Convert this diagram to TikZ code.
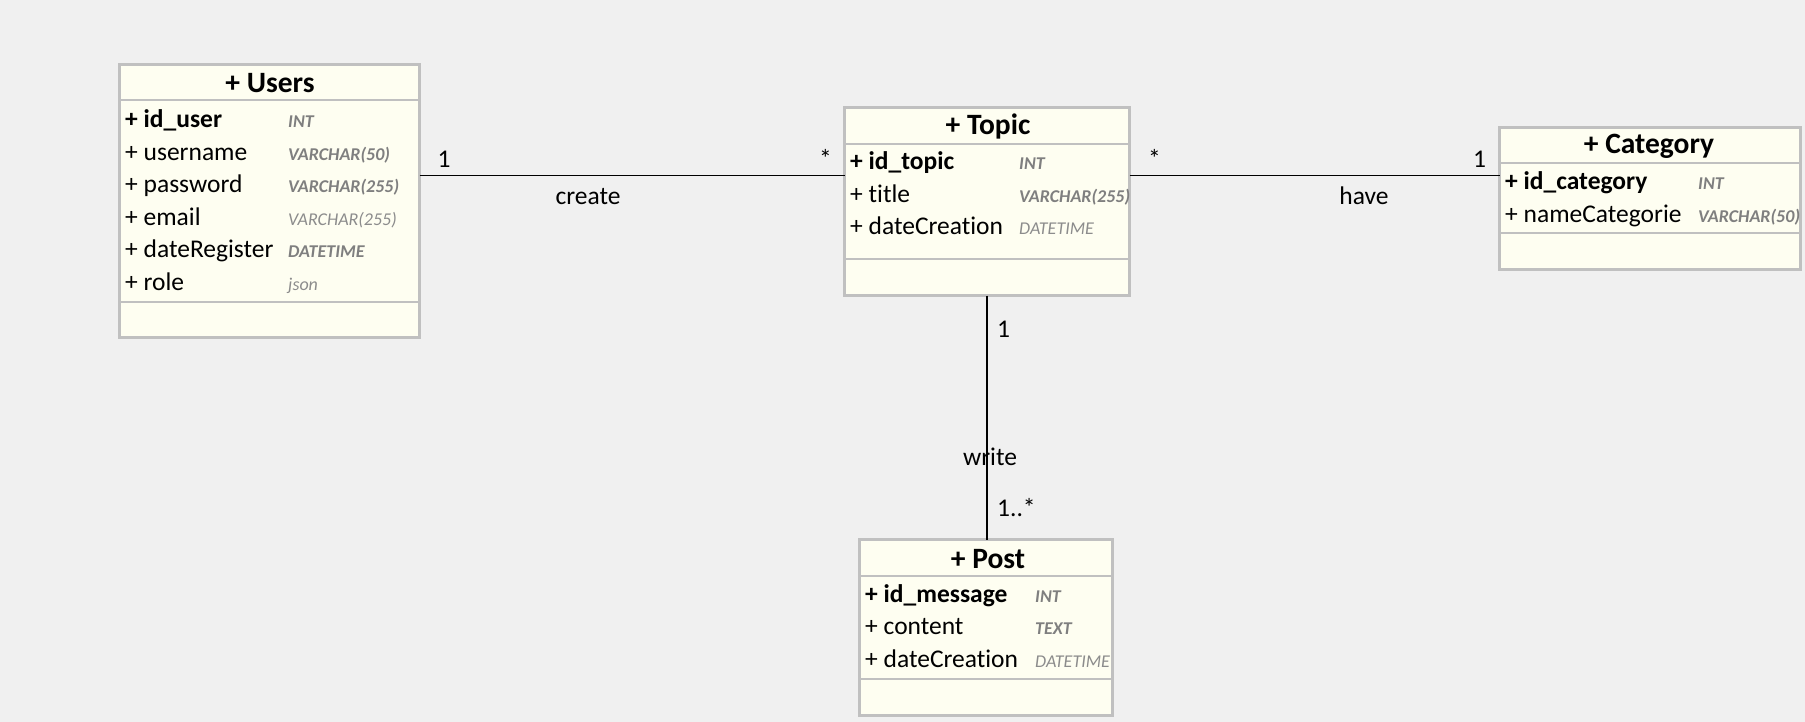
\documentclass[tikz,border=0pt]{standalone}
\usepackage{fontspec}
\setmainfont{Carlito}[Ligatures={NoCommon}]
\definecolor{bgcol}{HTML}{F0F0F0}
\definecolor{boxfill}{HTML}{FEFEF1}
\definecolor{boxline}{HTML}{C0C0C0}
\definecolor{typegray}{HTML}{7F7F7F}
\definecolor{typegraylight}{HTML}{8C8C8C}
\begin{document}
\begin{tikzpicture}[x=1pt,y=-1pt,
  classbox/.style={draw=boxline, fill=boxfill, line width=2.6pt, inner sep=0pt, outer sep=0pt},
  sepline/.style={draw=boxline, line width=2.6pt},
  ctitle/.style={anchor=base, inner sep=0pt, font=\bfseries\fontsize{29.5}{32}\selectfont},
  attr/.style={anchor=base west, inner sep=0pt, font=\fontsize{25.5}{30}\selectfont},
  pkattr/.style={anchor=base west, inner sep=0pt, font=\bfseries\fontsize{25.5}{30}\selectfont},
  typeb/.style={anchor=base west, inner sep=0pt, text=typegray, font=\bfseries\itshape\fontsize{18}{20}\selectfont},
  typer/.style={anchor=base west, inner sep=0pt, text=typegraylight, font=\itshape\fontsize{18}{20}\selectfont},
  assoc/.style={draw=black, line width=1.3pt},
  mult/.style={anchor=base west, inner sep=0pt, font=\fontsize{25.5}{30}\selectfont},
  alabel/.style={anchor=base, inner sep=0pt, font=\fontsize{25.5}{30}\selectfont}]

\useasboundingbox (0,0) rectangle (1805,722);
\fill[bgcol] (0,0) rectangle (1805,722);

% ---------- boxes ----------
\node[classbox, minimum width=300pt, minimum height=273pt] (users) at (269.5,201) {};
\node[classbox, minimum width=285pt, minimum height=188pt] (topic) at (987,201.5) {};
\node[classbox, minimum width=301pt, minimum height=142pt] (category) at (1650,198.5) {};
\node[classbox, minimum width=253pt, minimum height=176pt] (post) at (986,627.5) {};

% separators
\draw[sepline] (users.west |- 0,100) -- (users.east |- 0,100);
\draw[sepline] (users.west |- 0,302) -- (users.east |- 0,302);
\draw[sepline] (topic.west |- 0,144) -- (topic.east |- 0,144);
\draw[sepline] (topic.west |- 0,259) -- (topic.east |- 0,259);
\draw[sepline] (category.west |- 0,163) -- (category.east |- 0,163);
\draw[sepline] (category.west |- 0,233) -- (category.east |- 0,233);
\draw[sepline] (post.west |- 0,576) -- (post.east |- 0,576);
\draw[sepline] (post.west |- 0,679) -- (post.east |- 0,679);

% ---------- Users ----------
\node[ctitle] (usersT) at (270,93) {+ Users};
\node[pkattr] (u1) at (125,128) {+ id\_user};
\node[attr] (u2) at (125,160.5) {+ username};
\node[attr] (u3) at (125,193) {+ password};
\node[attr] (u4) at (125,225.5) {+ email};
\node[attr] (u5) at (125,258) {+ dateRegister};
\node[attr] (u6) at (125,290.5) {+ role};
\node[typeb] (ut1) at (288,128) {INT};
\node[typeb] (ut2) at (288,160.5) {VARCHAR(50)};
\node[typeb] (ut3) at (288,193) {VARCHAR(255)};
\node[typer] (ut4) at (288,225.5) {VARCHAR(255)};
\node[typeb] (ut5) at (288,258) {DATETIME};
\node[typer] (ut6) at (288,290.5) {json};

% ---------- Topic ----------
\node[ctitle] (topicT) at (988,135) {+ Topic};
\node[pkattr] (t1) at (850,170) {+ id\_topic};
\node[attr] (t2) at (850,202.5) {+ title};
\node[attr] (t3) at (850,235) {+ dateCreation};
\node[typeb] (tt1) at (1019,170) {INT};
\node[typeb] (tt2) at (1019,202.5) {VARCHAR(255)};
\node[typer] (tt3) at (1019,235) {DATETIME};

% ---------- Category ----------
\node[ctitle] (categoryT) at (1649,154) {+ Category};
\node[pkattr] (c1) at (1505,190) {+ id\_category};
\node[attr] (c2) at (1505,222.5) {+ nameCategorie};
\node[typeb] (ct1) at (1698,190) {INT};
\node[typeb] (ct2) at (1698,222.5) {VARCHAR(50)};

% ---------- Post ----------
\node[ctitle] (postT) at (988,568) {+ Post};
\node[pkattr] (p1) at (865,602) {+ id\_message};
\node[attr] (p2) at (865,634.5) {+ content};
\node[attr] (p3) at (865,667) {+ dateCreation};
\node[typeb] (pt1) at (1035,602) {INT};
\node[typeb] (pt2) at (1035,634.5) {TEXT};
\node[typer] (pt3) at (1035,667) {DATETIME};

% ---------- associations ----------
\draw[assoc] (users.east |- 0,175.5) -- (topic.west |- 0,175.5);
\draw[assoc] (topic.east |- 0,175.5) -- (category.west |- 0,175.5);
\draw[assoc] (topic.south) -- (topic.south |- post.north);

% multiplicities and labels
\node[mult] (m1) at (437.5,168) {1};
\node[mult] (m2) at (819,168) {*};
\node[alabel] (l1) at (588,205) {create};
\node[mult] (m3) at (1148,168) {*};
\node[mult] (m4) at (1473,168) {1};
\node[alabel] (l2) at (1364,205) {have};
\node[mult] (m5) at (997,337) {1};
\node[alabel] (l3) at (990,465) {write};
\node[mult] (m6) at (997,516) {1..*};
\end{tikzpicture}
\end{document}
